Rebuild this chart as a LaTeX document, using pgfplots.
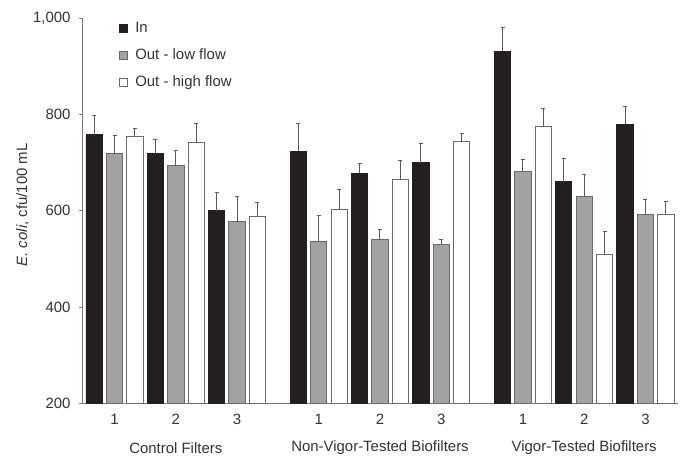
\documentclass[border=0pt]{standalone}
\usepackage{pgfplots}
\pgfplotsset{compat=1.18}
\usepackage{pgfplotstable}
\usepackage{fontspec}
\setmainfont{Liberation Sans}
\definecolor{barblack}{HTML}{231F20}
\definecolor{bargray}{HTML}{A2A2A4}
\definecolor{edgegray}{HTML}{6A6A6A}
\definecolor{axgray}{HTML}{7A7A7A}
\definecolor{errgray}{HTML}{5A5A5A}
\definecolor{txt}{HTML}{333333}
\pgfplotsset{sqlegend/.style={legend image code/.code={\draw[##1, line width=0.7bp] (0bp,-4bp) rectangle (8bp,4bp);}}}

\pgfplotstableread{
x y e
0 758 40
3 720 29
6 600 38
10 724 58
13 678 21
16 700 40
20 932 48
23 660 49
26 780 36
}\tin
\pgfplotstableread{
x y e
1 719 38
4 694 31
7 577 53
11 536 55
14 541 21
17 530 11
21 682 24
24 629 47
27 593 30
}\tlow
\pgfplotstableread{
x y e
2 755 16
5 741 41
8 589 29
12 603 42
15 666 39
18 744 16
22 776 37
25 510 46
28 593 26
}\thigh

\begin{document}
\fontsize{15}{18}\selectfont
\begin{tikzpicture}
\useasboundingbox (-82.7bp,-52.7bp) rectangle (598.3bp,403.3bp);
\begin{axis}[
  scale only axis,
  width=595bp, height=385bp,
  at={(0,0)}, anchor=south west,
  xmin=-0.56, xmax=28.58,
  ymin=200, ymax=1000,
  axis lines*=left,
  axis line style={axgray, line width=0.9bp},
  ytick={200,400,600,800,1000},
  xtick={1,4,7,11,14,17,21,24,27},
  xticklabels={1,2,3,1,2,3,1,2,3},
  x tick style={draw=none},
  y tick style={axgray, line width=0.9bp},
  tick align=outside,
  major tick length=4bp,
  /pgf/number format/assume math mode=true,
  /pgf/number format/1000 sep={,},
  tick label style={font=\fontsize{15}{18}\selectfont, text=txt},
  xticklabel style={yshift=-2bp},
  yticklabel style={xshift=-3bp},
  ylabel={\textit{E. coli}, cfu/100 mL},
  ylabel style={at={(axis description cs:0,0.5)}, anchor=center, yshift=60bp, xshift=6bp, text=txt, font=\fontsize{15}{18}\selectfont},
  bar width=0.8,
  legend style={draw=none, fill=none, at={(axis description cs:0.055,1.0)}, anchor=north west,
    font=\fontsize{15}{18}\selectfont, text=txt, row sep=10bp,
    /tikz/every odd column/.append style={column sep=6bp}},
  legend cell align=left,
  error bars/y dir=plus,
  error bars/y explicit,
  error bars/error bar style={errgray, line width=1bp},
  error bars/error mark options={errgray, line width=1bp, mark size=2bp, rotate=90},
  clip=true,
]
\addplot[ybar, bar shift=0pt, fill=barblack, draw=barblack, line width=0.9bp, sqlegend]
  table[x=x, y=y, y error=e]{\tin};
\addlegendentry{In}
\addplot[ybar, bar shift=0pt, fill=bargray, draw=edgegray, line width=0.9bp, sqlegend]
  table[x=x, y=y, y error=e]{\tlow};
\addlegendentry{Out - low flow}
\addplot[ybar, bar shift=0pt, fill=white, draw=edgegray, line width=0.9bp, sqlegend]
  table[x=x, y=y, y error=e]{\thigh};
\addlegendentry{Out - high flow}
\end{axis}
\node[text=txt, anchor=center] at (93.1bp,-44.7bp) {Control Filters};
\node[text=txt, anchor=center] at (297.3bp,-44.7bp) {Non-Vigor-Tested Biofilters};
\node[text=txt, anchor=center] at (501.5bp,-44.7bp) {Vigor-Tested Biofilters};
\end{tikzpicture}
\end{document}
